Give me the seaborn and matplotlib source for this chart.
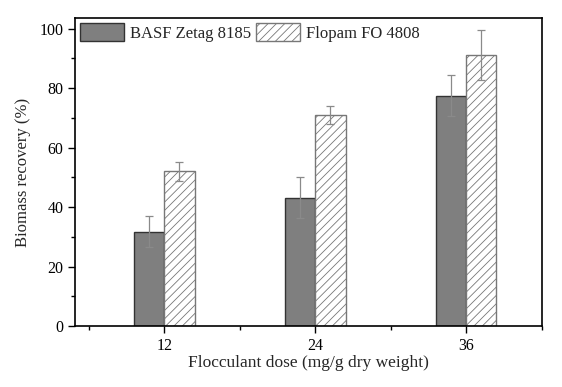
import pandas as pd
import matplotlib.pyplot as plt
import seaborn as sns
from matplotlib.ticker import MultipleLocator

# Data
doses = ["12", "24", "36"]
zetag = [31.8, 43.2, 77.4]
zetag_err = [5.2, 7.0, 6.9]
flopam = [52.0, 71.0, 91.2]
flopam_err = [3.3, 3.0, 8.4]
series = ["BASF Zetag 8185", "Flopam FO 4808"]

df = pd.DataFrame({
    "dose": doses * 2,
    "recovery": zetag + flopam,
    "err": zetag_err + flopam_err,
    "flocculant": [series[0]] * 3 + [series[1]] * 3,
})

sns.set_theme(style="ticks")
plt.rcParams["font.family"] = ["Liberation Serif", "DejaVu Serif"]
plt.rcParams["hatch.linewidth"] = 0.6

fig, ax = plt.subplots(figsize=(5.62, 3.87), dpi=100)
sns.barplot(data=df, x="dose", y="recovery", hue="flocculant",
            palette=["#7f7f7f", "white"], width=0.4, gap=0,
            errorbar=None, ax=ax, edgecolor="#333333", linewidth=1.0)

# hatch the second series and add error bars
for cont, name in zip(ax.containers, series):
    sub = df[df["flocculant"] == name]
    xs, hs = [], []
    for patch in cont:
        if name == series[1]:
            patch.set_hatch("////")
            patch.set_edgecolor("#777777")
        xs.append(patch.get_x() + patch.get_width() / 2)
        hs.append(patch.get_height())
    ax.errorbar(xs, hs, yerr=sub["err"].values, fmt="none", ecolor="#8a8a8a",
                elinewidth=0.9, capsize=3, capthick=0.9)

ax.set_ylim(0, 103.5)
ax.set_xlim(-0.59, 2.5)
ax.yaxis.set_major_locator(MultipleLocator(20))
ax.yaxis.set_minor_locator(MultipleLocator(10))
ax.xaxis.set_minor_locator(MultipleLocator(1, offset=0.5))
ax.tick_params(which="both", direction="out", colors="black", labelsize=11.5)
ax.tick_params(which="major", length=5, width=1)
ax.tick_params(which="minor", length=3, width=1)
for s in ax.spines.values():
    s.set_visible(True)
    s.set_linewidth(1.2)
    s.set_color("black")

ax.set_xlabel("Flocculant dose (mg/g dry weight)", fontsize=12.5, labelpad=1)
ax.set_ylabel("Biomass recovery (%)", fontsize=12, labelpad=6)

leg = ax.legend(loc="upper left", ncol=2, frameon=False, fontsize=12,
                handlelength=2.6, handleheight=1.3, columnspacing=0.3,
                handletextpad=0.4, borderaxespad=0.1, borderpad=0.2)
for h in leg.legend_handles:
    h.set_linewidth(1.0)
leg.legend_handles[1].set_hatch("////")
leg.legend_handles[1].set_edgecolor("#777777")

fig.subplots_adjust(left=0.134, right=0.964, top=0.953, bottom=0.157)
fig.savefig("out.png", dpi=100)
